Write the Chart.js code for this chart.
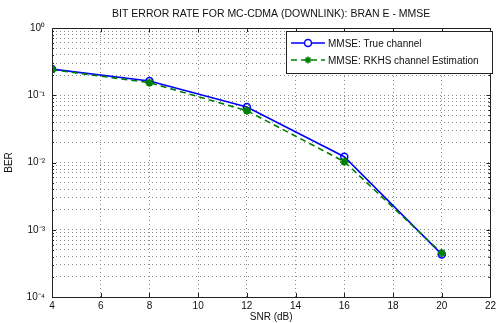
<!DOCTYPE html>
<html>
<head>
<meta charset="utf-8">
<script src="https://cdn.jsdelivr.net/npm/chart.js@4"></script>
<style>
  html, body { margin: 0; padding: 0; background: #fff; }
  #wrap { width: 499px; height: 323px; }
</style>
</head>
<body>
<div id="wrap"><canvas id="myChart" width="499" height="323"></canvas></div>
<script>
const snr = [4, 8, 12, 16, 20];
const berTrue = [0.245, 0.163, 0.067, 0.0122, 0.00043];
const berRkhs = [0.240, 0.154, 0.059, 0.0103, 0.00045];
const xTicks = [4, 6, 8, 10, 12, 14, 16, 18, 20, 22];
const yDecades = [-4, -3, -2, -1, 0];
const supers = { '-': '⁻', '0': '⁰', '1': '¹', '2': '²', '3': '³', '4': '⁴' };

const titleText = 'BIT ERROR RATE FOR MC-CDMA (DOWNLINK): BRAN E - MMSE';
const xLabel = 'SNR (dB)';
const yLabel = 'BER';
const legendLabels = ['MMSE: True channel', 'MMSE: RKHS channel Estimation'];

const FONT = '10px "Liberation Sans", Arial, sans-serif';

// all y grid values (1..9 x 10^e)
const yGridValues = [];
yDecades.forEach(e => {
    for (let m = 1; m <= 9; m++) {
        if (e === 0 && m > 1) break;
        yGridValues.push(m * Math.pow(10, e));
    }
});

function isMajor(v) {
    const l = Math.log10(v);
    return Math.abs(l - Math.round(l)) < 1e-9;
}

const extras = {
    id: 'extras',
    afterDraw(chart) {
        const ctx = chart.ctx;
        const a = chart.chartArea;
        const xs = chart.scales.x, ys = chart.scales.y;
        ctx.save();

        // inward tick marks
        ctx.strokeStyle = '#222';
        ctx.lineWidth = 1;
        ctx.beginPath();
        xTicks.forEach(t => {
            const px = Math.round(xs.getPixelForValue(t)) + 0.5;
            ctx.moveTo(px, a.bottom); ctx.lineTo(px, a.bottom - 4);
            ctx.moveTo(px, a.top); ctx.lineTo(px, a.top + 4);
        });
        yGridValues.forEach(v => {
            const py = Math.round(ys.getPixelForValue(v)) + 0.5;
            const len = isMajor(v) ? 4 : 2;
            ctx.moveTo(a.left, py); ctx.lineTo(a.left + len, py);
            ctx.moveTo(a.right, py); ctx.lineTo(a.right - len, py);
        });
        ctx.stroke();

        // box
        ctx.strokeStyle = '#222';
        ctx.strokeRect(Math.round(a.left) + 0.5, Math.round(a.top) + 0.5,
            Math.round(a.right - a.left), Math.round(a.bottom - a.top));

        // title and axis labels
        ctx.fillStyle = '#111';
        ctx.font = '10.5px "Liberation Sans", Arial, sans-serif';
        ctx.textAlign = 'center';
        ctx.textBaseline = 'middle';
        ctx.fillText(titleText, (a.left + a.right) / 2, 14);
        ctx.font = FONT;
        ctx.fillText(xLabel, (a.left + a.right) / 2, 317);
        ctx.save();
        ctx.translate(9, (a.top + a.bottom) / 2);
        ctx.rotate(-Math.PI / 2);
        ctx.fillText(yLabel, 0, 0);
        ctx.restore();

        // legend
        const lx = 286.5, ly = 31.5, lw = 206, lh = 42;
        ctx.fillStyle = '#fff';
        ctx.fillRect(lx, ly, lw, lh);
        ctx.strokeStyle = '#222';
        ctx.strokeRect(lx, ly, lw, lh);
        const rows = [
            { y: 43, color: '#0000ff', dash: [], marker: 'circle' },
            { y: 60, color: '#008000', dash: [6, 4], marker: 'star' }
        ];
        rows.forEach((r, i) => {
            ctx.strokeStyle = r.color;
            ctx.lineWidth = 1.5;
            ctx.setLineDash(r.dash);
            ctx.beginPath();
            ctx.moveTo(291, r.y); ctx.lineTo(325, r.y);
            ctx.stroke();
            ctx.setLineDash([]);
            Chart.helpers.drawPoint(ctx, {
                pointStyle: r.marker, radius: 3.5, borderWidth: 1.5
            }, 308, r.y);
            ctx.fillStyle = '#111';
            ctx.textAlign = 'left';
            ctx.fillText(legendLabels[i], 328, r.y + 1);
        });
        ctx.restore();
    }
};

const ctx = document.getElementById('myChart').getContext('2d');
new Chart(ctx, {
    type: 'line',
    data: {
        datasets: [{
            label: legendLabels[0],
            data: snr.map((x, i) => ({ x: x, y: berTrue[i] })),
            borderColor: '#0000ff',
            backgroundColor: 'rgba(0,0,0,0)',
            borderWidth: 1.6,
            pointStyle: 'circle',
            pointRadius: 3.5,
            pointBorderWidth: 1.5,
            pointBorderColor: '#0000ff',
            pointBackgroundColor: 'rgba(0,0,0,0)',
            tension: 0,
            order: 2
        }, {
            label: legendLabels[1],
            data: snr.map((x, i) => ({ x: x, y: berRkhs[i] })),
            borderColor: '#008000',
            backgroundColor: '#008000',
            borderWidth: 1.6,
            borderDash: [6, 4],
            pointStyle: 'star',
            pointRadius: 4,
            pointBorderWidth: 2,
            pointBorderColor: '#008000',
            tension: 0,
            order: 1
        }]
    },
    options: {
        responsive: false,
        animation: false,
        events: [],
        layout: { padding: { left: 0, top: 28, right: 3, bottom: 0 } },
        plugins: {
            legend: { display: false },
            title: { display: false },
            tooltip: { enabled: false }
        },
        scales: {
            x: {
                type: 'linear',
                min: 4,
                max: 22,
                afterBuildTicks: s => { s.ticks = xTicks.map(v => ({ value: v })); },
                afterFit: s => { s.height = 26; },
                ticks: {
                    autoSkip: false,
                    maxRotation: 0,
                    padding: 3,
                    color: '#111',
                    font: { family: '"Liberation Sans", Arial, sans-serif', size: 10 }
                },
                grid: {
                    color: '#8a8a8a',
                    lineWidth: 1,
                    drawTicks: false
                },
                border: { display: false, dash: [1, 3] }
            },
            y: {
                type: 'logarithmic',
                min: 1e-4,
                max: 1,
                afterBuildTicks: s => { s.ticks = yGridValues.map(v => ({ value: v })); },
                afterFit: s => { s.width = 52; },
                ticks: {
                    autoSkip: false,
                    padding: 7,
                    color: '#111',
                    font: { family: '"Liberation Sans", Arial, sans-serif', size: 10 },
                    callback: v => {
                        if (!isMajor(v)) return '';
                        const e = String(Math.round(Math.log10(v)));
                        return '10' + e.split('').map(c => supers[c]).join('');
                    }
                },
                grid: {
                    color: '#8a8a8a',
                    lineWidth: 1,
                    drawTicks: false
                },
                border: { display: false, dash: [1, 3] }
            }
        }
    },
    plugins: [extras]
});
</script>
</body>
</html>
